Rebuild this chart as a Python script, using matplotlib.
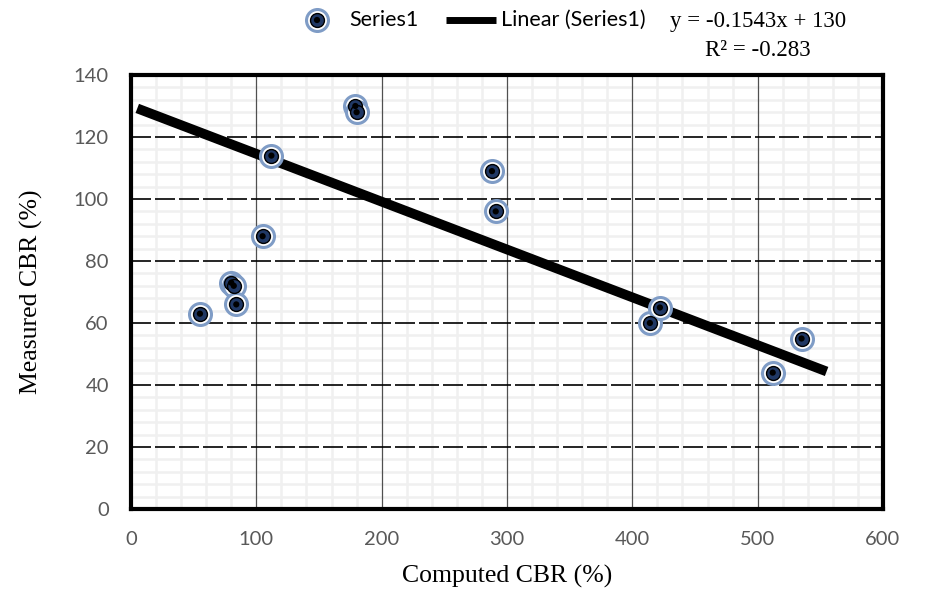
import numpy as np
import matplotlib
matplotlib.use("Agg")
import matplotlib.pyplot as plt
from matplotlib.ticker import MultipleLocator

# data
computed = [55, 80, 82, 84, 105, 112, 179, 180, 288, 291, 414, 422, 512, 535]
measured = [63, 73, 72, 66, 88, 114, 130, 128, 109, 96, 60, 65, 44, 55]
slope, intercept = -0.1543, 130
trend_x = [5, 555]
eq_text = "y = -0.1543x + 130"
r2_text = "R\u00b2 = -0.283"

sans = ["Lato", "DejaVu Sans"]
serif = ["Liberation Serif", "DejaVu Serif"]

ring = "#7f9cc6"
navy = "#203864"

fig = plt.figure(figsize=(9.28, 5.94), dpi=100)
ax = fig.add_axes([131 / 928, 1 - 509 / 594, 752 / 928, 434 / 594])

ax.set_xlim(0, 600)
ax.set_ylim(0, 140)
ax.xaxis.set_major_locator(MultipleLocator(100))
ax.yaxis.set_major_locator(MultipleLocator(20))
ax.xaxis.set_minor_locator(MultipleLocator(20))
ax.yaxis.set_minor_locator(MultipleLocator(4))

# light minor grid underneath, major lines on top of it
ax.grid(which="minor", color="#f0f0f0", linewidth=1.8)
ax.set_axisbelow(True)
for xv in ax.get_xticks():
    if 0 < xv < 600:
        ax.axvline(xv, color="#505050", linewidth=0.9, zorder=1)
for yv in ax.get_yticks():
    if 0 < yv < 140:
        ax.axhline(yv, color="black", linewidth=1.2, linestyle=(0, (12, 2.4)), zorder=1)

# trendline
tx = np.array(trend_x)
ax.plot(tx, slope * tx + intercept, color="black", linewidth=7, solid_capstyle="butt", zorder=3)

# markers: blue ring, white gap, navy fill, black centre
ax.scatter(computed, measured, s=250, facecolor="white", edgecolor=ring, linewidth=2.2, zorder=4)
ax.scatter(computed, measured, s=100, facecolor=navy, edgecolor="black", linewidth=1, zorder=5)
ax.scatter(computed, measured, s=20, facecolor="black", edgecolor="none", zorder=6)

for sp in ax.spines.values():
    sp.set_linewidth(3)
    sp.set_color("black")

ax.tick_params(which="both", length=0)
ax.tick_params(axis="y", pad=16)
ax.tick_params(axis="x", pad=16)
for lab in ax.get_xticklabels() + ax.get_yticklabels():
    lab.set_family(sans)
    lab.set_fontsize(14.5)
    lab.set_color("#595959")

ax.set_xlabel("Computed CBR (%)", family=serif, fontsize=18.5, labelpad=12)
ax.set_ylabel("Measured CBR (%)", family=serif, fontsize=18.5, labelpad=22)

# legend row drawn in a pixel-space overlay
lg = fig.add_axes([0, 0, 1, 1], zorder=10)
lg.set_xlim(0, 928)
lg.set_ylim(594, 0)
lg.axis("off")
lg.scatter([317], [20], s=250, facecolor="white", edgecolor=ring, linewidth=2.2)
lg.scatter([317], [20], s=100, facecolor=navy, edgecolor="black", linewidth=1)
lg.scatter([317], [20], s=20, facecolor="black", edgecolor="none")
lg.text(349, 20, "Series1", family=sans, fontsize=15.5, ha="left", va="center")
lg.plot([446, 496], [20, 20], color="black", linewidth=5, solid_capstyle="butt")
lg.text(501, 20, "Linear (Series1)", family=sans, fontsize=15.5, ha="left", va="center")

lg.text(758, 21, eq_text, family=serif, fontsize=16.5, ha="center", va="center")
lg.text(758, 51, r2_text, family=serif, fontsize=16.5, ha="center", va="center")

fig.savefig("out.png", dpi=100)
